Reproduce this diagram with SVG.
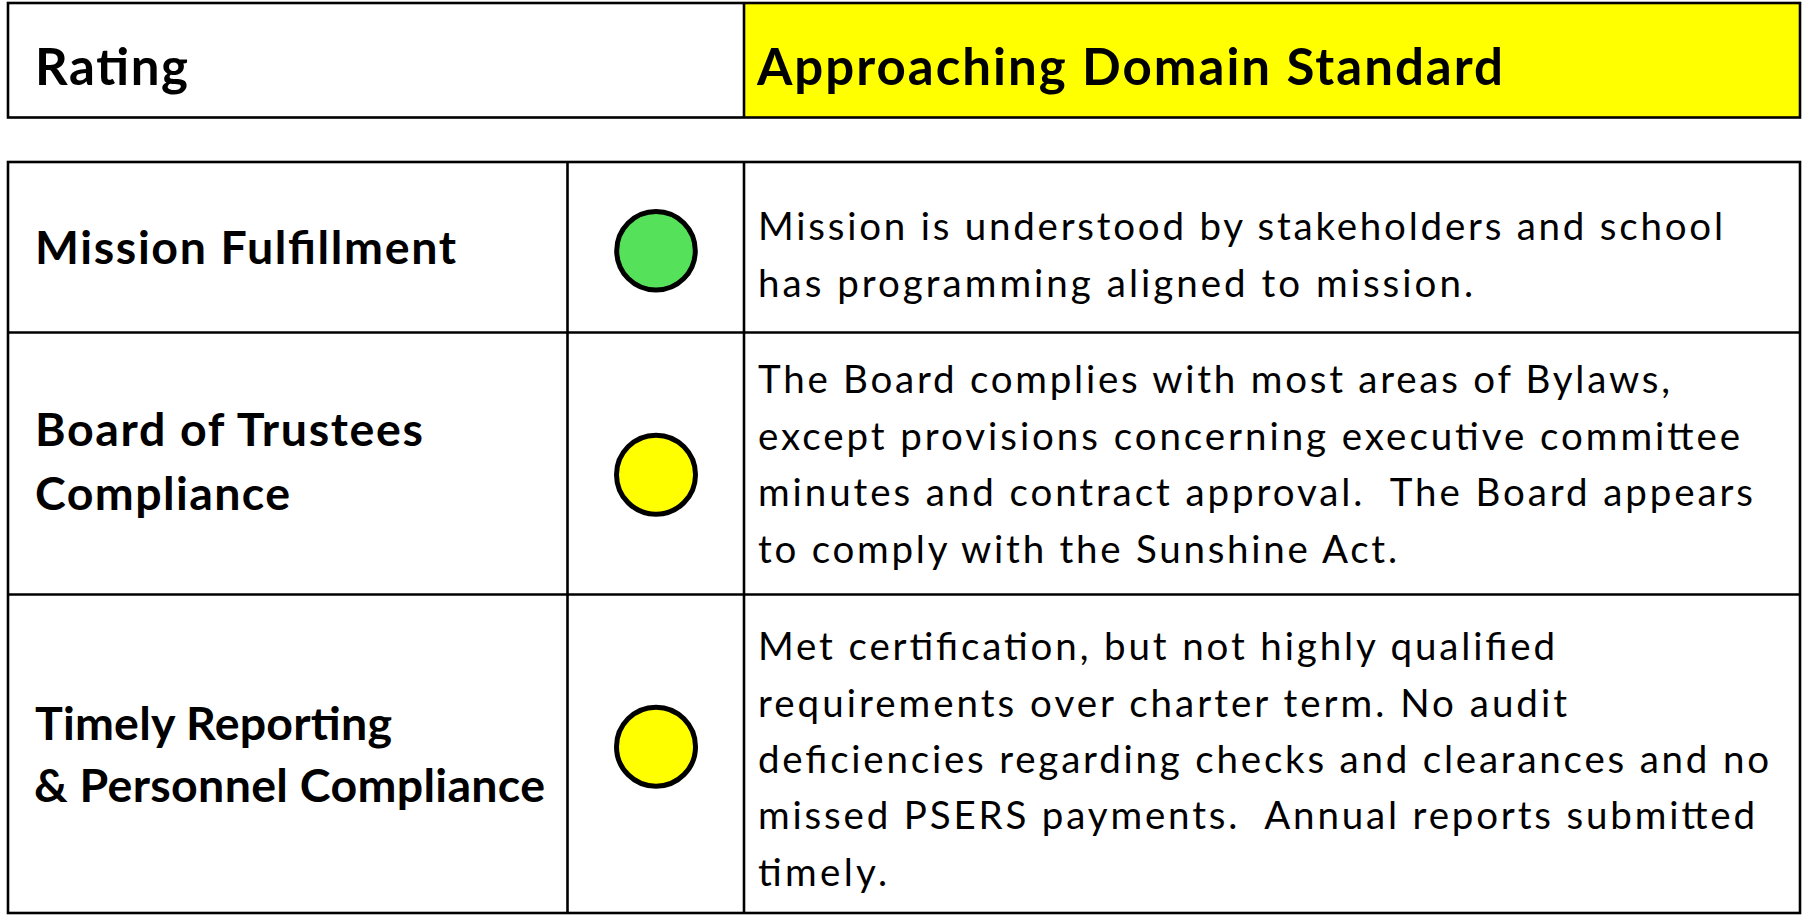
<svg xmlns="http://www.w3.org/2000/svg" width="1807" height="916" viewBox="0 0 1807 916">
<style>
.line{stroke:#000;stroke-width:2.6;fill:none}
.lbl{font-family:Lato,"Open Sans","Liberation Sans",sans-serif;font-weight:bold;font-size:46.5px;fill:#000;white-space:pre}
.hdr{font-family:Lato,"Open Sans","Liberation Sans",sans-serif;font-weight:bold;font-size:51px;fill:#000;white-space:pre}
.body{font-family:Lato,"Open Sans","Liberation Sans",sans-serif;font-size:38.5px;fill:#000;white-space:pre}
.dot{stroke:#000;stroke-width:5}
</style>
<rect x="0" y="0" width="1807" height="916" fill="#fff"/>
<g id="header">
<rect x="744" y="3" width="1056" height="114.5" fill="#ffff00"/>
<rect class="line" x="8" y="3" width="1792" height="114.5"/>
<line class="line" x1="744" y1="3" x2="744" y2="117.5"/>
<text class="hdr" x="35" y="84.5" textLength="153" lengthAdjust="spacing">Rating</text>
<text class="hdr" x="757" y="84.5" textLength="746" lengthAdjust="spacing" xml:space="preserve">Approaching Domain Standard</text>
</g>
<g id="table-grid">
<rect class="line" x="8" y="162" width="1792" height="751"/>
<line class="line" x1="567.5" y1="162" x2="567.5" y2="913"/>
<line class="line" x1="744" y1="162" x2="744" y2="913"/>
<line class="line" x1="8" y1="332.5" x2="1800" y2="332.5"/>
<line class="line" x1="8" y1="594.5" x2="1800" y2="594.5"/>
</g>
<g id="row-mission">
<text class="lbl" x="35" y="263.5" textLength="421" lengthAdjust="spacing" xml:space="preserve">Mission Fulfillment</text>
<circle class="dot" cx="656" cy="250.8" r="39.3" fill="#56e15b"/>
<text class="body" x="758" y="240" textLength="965" lengthAdjust="spacing" xml:space="preserve">Mission is understood by stakeholders and school</text>
<text class="body" x="758" y="296.5" textLength="715" lengthAdjust="spacing" xml:space="preserve">has programming aligned to mission.</text>
</g>
<g id="row-board">
<text class="lbl" x="35" y="446" textLength="388" lengthAdjust="spacing" xml:space="preserve">Board of Trustees</text>
<text class="lbl" x="35" y="510" textLength="255" lengthAdjust="spacing">Compliance</text>
<circle class="dot" cx="656" cy="474.7" r="39.5" fill="#ffff00"/>
<text class="body" x="758" y="393" textLength="912" lengthAdjust="spacing" xml:space="preserve">The Board complies with most areas of Bylaws,</text>
<text class="body" x="758" y="449.5" textLength="982" lengthAdjust="spacing" xml:space="preserve">except provisions concerning executive committee</text>
<text class="body" x="758" y="506" textLength="995" lengthAdjust="spacing" xml:space="preserve">minutes and contract approval.  The Board appears</text>
<text class="body" x="758" y="562.5" textLength="639" lengthAdjust="spacing" xml:space="preserve">to comply with the Sunshine Act.</text>
</g>
<g id="row-reporting">
<text class="lbl" x="35" y="740" textLength="357" lengthAdjust="spacing" xml:space="preserve">Timely Reporting</text>
<text class="lbl" x="34" y="802" textLength="511" lengthAdjust="spacing" xml:space="preserve">&amp; Personnel Compliance</text>
<circle class="dot" cx="656" cy="746.7" r="39.5" fill="#ffff00"/>
<text class="body" x="758" y="660" textLength="797" lengthAdjust="spacing" xml:space="preserve">Met certification, but not highly qualified</text>
<text class="body" x="758" y="716.5" textLength="809" lengthAdjust="spacing" xml:space="preserve">requirements over charter term. No audit</text>
<text class="body" x="758" y="773" textLength="1011" lengthAdjust="spacing" xml:space="preserve">deficiencies regarding checks and clearances and no</text>
<text class="body" x="758" y="829" textLength="997" lengthAdjust="spacing" xml:space="preserve">missed PSERS payments.  Annual reports submitted</text>
<text class="body" x="758" y="886" textLength="129" lengthAdjust="spacing">timely.</text>
</g>
<g id="connectors"/>
</svg>
